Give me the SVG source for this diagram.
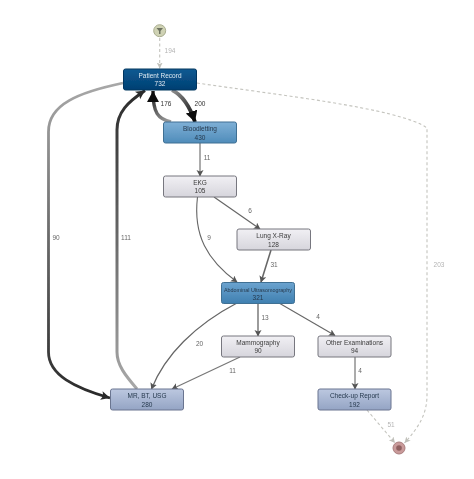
<svg xmlns="http://www.w3.org/2000/svg" width="474" height="479" viewBox="0 0 474 479">
<style>
text{font-family:"Liberation Sans",Arial,sans-serif;font-size:6.5px;text-anchor:middle}
.lbl{fill:#666}.faint{fill:#b4b4b4}.dark{fill:#333}
.node{stroke-width:1}
.n1{fill:url(#gP);stroke:#06365f}.n2{fill:url(#gB);stroke:#3f6f93}.n3{fill:url(#gA);stroke:#3f6f93}
.n4{fill:url(#gW);stroke:#77777f}.n5{fill:url(#gS);stroke:#6b7590}
.t1{fill:#dfe9f2}.t2{fill:#26394d}.t3{fill:#3a3a3a}
.e{fill:none}
.dash{fill:none;stroke:#c4c4be;stroke-width:1.1;stroke-dasharray:3 2.5}
</style>
<defs>
<filter id="soft" x="0" y="0" width="100%" height="100%" filterUnits="userSpaceOnUse" primitiveUnits="userSpaceOnUse"><feGaussianBlur stdDeviation="0.35"/></filter>
<linearGradient id="gP" x1="0" y1="0" x2="0" y2="1"><stop offset="0" stop-color="#0d5a92"/><stop offset="1" stop-color="#013f72"/></linearGradient>
<linearGradient id="gB" x1="0" y1="0" x2="0" y2="1"><stop offset="0" stop-color="#7fb0d6"/><stop offset="1" stop-color="#4f8cba"/></linearGradient>
<linearGradient id="gA" x1="0" y1="0" x2="0" y2="1"><stop offset="0" stop-color="#6ba3cf"/><stop offset="1" stop-color="#3f7fb0"/></linearGradient>
<linearGradient id="gW" x1="0" y1="0" x2="0" y2="1"><stop offset="0" stop-color="#f1f0f4"/><stop offset="1" stop-color="#d6d5dc"/></linearGradient>
<linearGradient id="gS" x1="0" y1="0" x2="0" y2="1"><stop offset="0" stop-color="#bcc8e0"/><stop offset="1" stop-color="#94a4c4"/></linearGradient>
<linearGradient id="e90" gradientUnits="userSpaceOnUse" x1="0" y1="83" x2="0" y2="398"><stop offset="0" stop-color="#a8a8a8"/><stop offset="1" stop-color="#2a2a2a"/></linearGradient>
<linearGradient id="e111" gradientUnits="userSpaceOnUse" x1="0" y1="388" x2="0" y2="90"><stop offset="0" stop-color="#a8a8a8"/><stop offset="1" stop-color="#2a2a2a"/></linearGradient>
<linearGradient id="e176" gradientUnits="userSpaceOnUse" x1="170" y1="122" x2="153" y2="92"><stop offset="0" stop-color="#a0a0a0"/><stop offset="1" stop-color="#1c1c1c"/></linearGradient>
<linearGradient id="e200" gradientUnits="userSpaceOnUse" x1="172" y1="90" x2="195" y2="120"><stop offset="0" stop-color="#909090"/><stop offset="1" stop-color="#0c0c0c"/></linearGradient>
<marker id="mS" markerUnits="userSpaceOnUse" markerWidth="8" markerHeight="8" refX="6" refY="3.5" orient="auto"><path d="M0 0L6.5 3.500L0 7L1.500 3.500z" fill="#555"/></marker>
<marker id="mF" markerUnits="userSpaceOnUse" markerWidth="8" markerHeight="8" refX="6" refY="3" orient="auto"><path d="M0 0L6 3L0 6L1.500 3z" fill="#c0c0ba"/></marker>
<marker id="mD" markerUnits="userSpaceOnUse" markerWidth="12" markerHeight="12" refX="9" refY="4.500" orient="auto"><path d="M0 0L9 4.500L0 9L2 4.500z" fill="#2a2a2a"/></marker>
<marker id="mB" markerUnits="userSpaceOnUse" markerWidth="14" markerHeight="14" refX="11" refY="6" orient="auto"><path d="M0 0L11 6L0 12z" fill="#0c0c0c"/></marker>
</defs>
<rect width="474" height="479" fill="#fff"/>
<g filter="url(#soft)">
<g id="connectors">
<path id="edge-start-patient" class="dash" marker-end="url(#mF)" d="M159.700 38V68.500"/>
<path id="edge-patient-end" class="dash" marker-end="url(#mF)" d="M197 83C270 94 400 108 427 128V395C427 415 418 428 404.500 443"/>
<path id="edge-checkup-end" class="dash" marker-end="url(#mF)" d="M367 410L395 443"/>
<path id="edge-patient-mr" class="e" stroke="url(#e90)" stroke-width="2.800" marker-end="url(#mD)" d="M123 83C80 92 48 104 48.500 132V352C48.500 375 75 388 110 398"/>
<path id="edge-mr-patient" class="e" stroke="url(#e111)" stroke-width="3" marker-end="url(#mD)" d="M137 389C125 375 117 365 117 352V130C117 112 128 102 145 90.500"/>
<path id="edge-blood-patient" class="e" stroke="url(#e176)" stroke-width="3.400" marker-end="url(#mB)" d="M171 122C158 119 153 113 153 91"/>
<path id="edge-patient-blood" class="e" stroke="url(#e200)" stroke-width="3.800" marker-end="url(#mB)" d="M172 90C182 95 190 107 195 122"/>
<path id="edge-blood-ekg" class="e" stroke="#666" stroke-width="1.100" marker-end="url(#mS)" d="M200 143V176"/>
<path id="edge-ekg-lung" class="e" stroke="#666" stroke-width="1.100" marker-end="url(#mS)" d="M214 197L260 229"/>
<path id="edge-ekg-abd" class="e" stroke="#666" stroke-width="1.100" marker-end="url(#mS)" d="M197.500 197C193 235 207 260 237 282"/>
<path id="edge-lung-abd" class="e" stroke="#666" stroke-width="1.600" marker-end="url(#mS)" d="M271 250L261 282"/>
<path id="edge-abd-mammo" class="e" stroke="#666" stroke-width="1.300" marker-end="url(#mS)" d="M258 303V336"/>
<path id="edge-abd-other" class="e" stroke="#666" stroke-width="1.100" marker-end="url(#mS)" d="M279 303L335 335.500"/>
<path id="edge-abd-mr" class="e" stroke="#666" stroke-width="1.300" marker-end="url(#mS)" d="M237 303C195 325 165 355 151.500 389"/>
<path id="edge-mammo-mr" class="e" stroke="#777" stroke-width="1.100" marker-end="url(#mS)" d="M240 357L172 389"/>
<path id="edge-other-check" class="e" stroke="#666" stroke-width="1.100" marker-end="url(#mS)" d="M355 357V389"/>
<text class="faint" x="170" y="53">194</text>
<text class="dark" x="166" y="106">176</text>
<text class="dark" x="200" y="106">200</text>
<text class="lbl" x="207" y="159.500">11</text>
<text class="lbl" x="250" y="213">6</text>
<text class="lbl" x="209" y="239.500">9</text>
<text class="lbl" x="274" y="266.500">31</text>
<text class="lbl" x="265" y="319.500">13</text>
<text class="lbl" x="318" y="319">4</text>
<text class="lbl" x="199.500" y="346">20</text>
<text class="lbl" x="232.500" y="373">11</text>
<text class="lbl" x="360" y="373">4</text>
<text class="faint" x="391" y="426.500">51</text>
<text class="lbl" x="56" y="239.500">90</text>
<text class="lbl" x="126" y="239.500">111</text>
<text class="faint" x="439" y="266.500">203</text>
</g>
<g id="start"><circle cx="159.700" cy="30.700" r="6" fill="#cfd2b4" stroke="#a9ad8f"/><path d="M156.500 28H163L160.500 31V34H159V31z" fill="#6d7260"/></g>
<g id="end"><circle cx="399" cy="448" r="6" fill="#c99a9a" stroke="#a87c7c"/><circle cx="399" cy="448" r="2.800" fill="#8f6060"/></g>
<g id="patient-record"><rect class="node n1" x="123.500" y="69" width="73" height="21" rx="2"/><text class="t1" x="160" y="77.800">Patient Record</text><text class="t1" x="160" y="86.300">732</text></g>
<g id="bloodletting"><rect class="node n2" x="163.500" y="122" width="73" height="21" rx="2"/><text class="t2" x="200" y="131">Bloodletting</text><text class="t2" x="200" y="139.500">430</text></g>
<g id="ekg"><rect class="node n4" x="163.500" y="176" width="73" height="21" rx="2"/><text class="t3" x="200" y="184.500">EKG</text><text class="t3" x="200" y="193">105</text></g>
<g id="lung-xray"><rect class="node n4" x="237" y="229" width="73.500" height="21" rx="2"/><text class="t3" x="273.500" y="238">Lung X-Ray</text><text class="t3" x="273.500" y="246.500">128</text></g>
<g id="abdominal"><rect class="node n3" x="221.500" y="282.500" width="73" height="21" rx="2"/><text class="t2" x="258" y="291.500" style="font-size:5.400px">Abdominal Ultrasomography</text><text class="t2" x="258" y="299.500">321</text></g>
<g id="mammography"><rect class="node n4" x="221.500" y="336" width="73" height="21" rx="2"/><text class="t3" x="258" y="344.800">Mammography</text><text class="t3" x="258" y="353.300">90</text></g>
<g id="mr-bt-usg"><rect class="node n5" x="110.500" y="389" width="73" height="21" rx="2"/><text class="t2" x="147" y="398">MR, BT, USG</text><text class="t2" x="147" y="406.500">280</text></g>
<g id="other-examinations"><rect class="node n4" x="318" y="336" width="73" height="21" rx="2"/><text class="t3" x="354.500" y="344.800">Other Examinations</text><text class="t3" x="354.500" y="353.300">94</text></g>
<g id="check-up-report"><rect class="node n5" x="318" y="389" width="73" height="21" rx="2"/><text class="t2" x="354.500" y="398">Check-up Report</text><text class="t2" x="354.500" y="406.500">192</text></g>
</g>
</svg>
